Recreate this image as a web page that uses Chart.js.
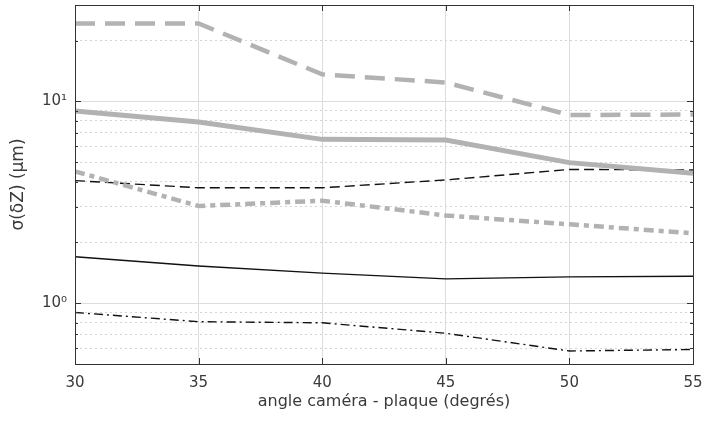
<!DOCTYPE html>
<html>
<head>
<meta charset="utf-8">
<script src="https://cdn.jsdelivr.net/npm/chart.js@4"></script>
<style>
html,body{margin:0;padding:0;background:#fff;}
#wrap{width:705px;height:425px;}
</style>
</head>
<body>
<div id="wrap"><canvas id="c" width="705" height="425"></canvas></div>
<script>
const angles = [30, 35, 40, 45, 50, 55];
const grayDashed  = [24.3, 24.3, 13.6, 12.4, 8.55, 8.6];
const graySolid   = [8.95, 7.9, 6.48, 6.43, 4.97, 4.4];
const blackDashed = [4.05, 3.73, 3.73, 4.08, 4.6, 4.57];
const grayDashDot = [4.5, 3.03, 3.22, 2.72, 2.46, 2.22];
const blackSolid  = [1.70, 1.53, 1.41, 1.32, 1.35, 1.36];
const blackDashDot= [0.90, 0.81, 0.80, 0.71, 0.58, 0.59];
const xTicks = [30, 35, 40, 45, 50, 55];
const yTicks = [0.5, 0.6, 0.7, 0.8, 0.9, 1, 2, 3, 4, 5, 6, 7, 8, 9, 10, 20, 30];
const yMajor = [1, 10];
const yMajorLabels = ['10\u2070', '10\u00B9'];

const pts = arr => arr.map((v, i) => ({x: angles[i], y: v}));
const GRAY = '#b2b2b2', BLACK = '#111111';
const isMajor = v => yMajor.some(m => Math.abs(v - m) < 1e-9);

const frame = {
  id: 'frame',
  afterDraw(chart) {
    const {ctx, chartArea: a, scales} = chart;
    ctx.save();
    ctx.strokeStyle = '#333';
    ctx.lineWidth = 1;
    ctx.beginPath();
    scales.x.ticks.forEach(t => {
      const px = Math.round(scales.x.getPixelForValue(t.value)) + 0.5;
      ctx.moveTo(px, a.bottom); ctx.lineTo(px, a.bottom - 6);
      ctx.moveTo(px, a.top); ctx.lineTo(px, a.top + 6);
    });
    scales.y.ticks.forEach(t => {
      const py = Math.round(scales.y.getPixelForValue(t.value)) + 0.5;
      const len = isMajor(t.value) ? 6 : 3;
      ctx.moveTo(a.left, py); ctx.lineTo(a.left + len, py);
      ctx.moveTo(a.right, py); ctx.lineTo(a.right - len, py);
    });
    ctx.stroke();
    ctx.strokeRect(Math.round(a.left) + 0.5, Math.round(a.top) + 0.5,
                   Math.round(a.right - a.left), Math.round(a.bottom - a.top));
    ctx.restore();
  }
};

const ds = (data, color, width, dash) => ({
  data: pts(data), borderColor: color, borderWidth: width, borderDash: dash,
  pointRadius: 0, fill: false, tension: 0, borderCapStyle: 'butt'
});

const setYTicks = s => { s.ticks = yTicks.map(v => ({value: v, major: isMajor(v)})); };

new Chart(document.getElementById('c'), {
  type: 'line',
  data: {
    datasets: [
      ds(grayDashed, GRAY, 4.5, [20, 10]),
      ds(graySolid, GRAY, 5, []),
      ds(grayDashDot, GRAY, 4.5, [10, 5, 5, 5]),
      ds(blackDashed, BLACK, 1.4, [10, 5]),
      ds(blackSolid, BLACK, 1.4, []),
      ds(blackDashDot, BLACK, 1.4, [9, 4, 2, 4])
    ]
  },
  options: {
    responsive: false,
    animation: false,
    layout: {padding: {left: 6, right: 12, top: 5, bottom: 0}},
    plugins: {legend: {display: false}, tooltip: {enabled: false}},
    scales: {
      x: {
        type: 'linear', min: 30, max: 55,
        afterBuildTicks: s => { s.ticks = xTicks.map(v => ({value: v})); },
        ticks: {color: '#3a3a3a', font: {family: 'DejaVu Sans', size: 15}, padding: 10},
        grid: {color: '#dddddd', lineWidth: 1, drawTicks: false},
        border: {display: false},
        title: {display: true, text: 'angle caméra - plaque (degrés)', color: '#3a3a3a',
                font: {family: 'DejaVu Sans', size: 16}, padding: {top: 0, bottom: 14}},
        afterFit: s => { s.height = 61; s.paddingLeft = 0; s.paddingRight = 0; }
      },
      y: {
        type: 'logarithmic', min: 0.5, max: 30,
        afterBuildTicks: setYTicks,
        ticks: {
          autoSkip: false, color: '#3a3a3a', font: {family: 'DejaVu Sans', size: 15}, padding: 8,
          callback: v => { const i = yMajor.findIndex(m => Math.abs(v - m) < 1e-9); return i >= 0 ? yMajorLabels[i] : ''; }
        },
        grid: {color: c => isMajor(c.tick.value) ? '#dddddd' : 'rgba(0,0,0,0)', lineWidth: 1, drawTicks: false},
        border: {display: false},
        title: {display: true, text: 'σ(δZ) (μm)', color: '#3a3a3a',
                font: {family: 'DejaVu Sans', size: 17}, padding: {top: 2, bottom: 4}},
        afterFit: s => { s.width = 69; s.paddingTop = 0; s.paddingBottom = 0; }
      },
      yMinor: {
        type: 'logarithmic', min: 0.5, max: 30, position: 'left',
        afterBuildTicks: setYTicks,
        ticks: {display: false, autoSkip: false},
        grid: {color: c => isMajor(c.tick.value) ? 'rgba(0,0,0,0)' : '#d4d4d4', lineWidth: 1, drawTicks: false},
        border: {display: false, dash: [2, 3]},
        afterFit: s => { s.width = 0; s.paddingTop = 0; s.paddingBottom = 0; }
      }
    }
  },
  plugins: [frame]
});
</script>
</body>
</html>
